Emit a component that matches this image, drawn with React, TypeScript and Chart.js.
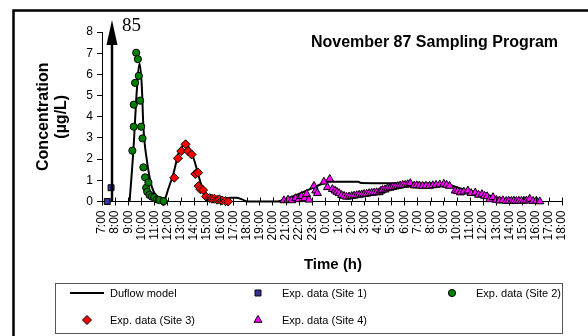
import React, { useEffect, useRef } from "react";
import { Chart, registerables } from "chart.js";

Chart.register(...registerables);

// ---- Data ----
const xTickLabels = [
  "7:00", "8:00", "9:00", "10:00", "11:00", "12:00", "13:00", "14:00", "15:00",
  "16:00", "17:00", "18:00", "19:00", "20:00", "21:00", "22:00", "23:00",
  "0:00", "1:00", "2:00", "3:00", "4:00", "5:00", "6:00", "7:00", "8:00",
  "9:00", "10:00", "11:00", "12:00", "13:00", "14:00", "15:00", "16:00",
  "17:00", "18:00",
];
const xStartHour = 7;
const xEndHour = 42;
const yMin = 0;
const yMax = 8;

const titleText = "November 87 Sampling Program";
const xTitle = "Time (h)";
const yTitleLines = ["Concentration", "(\u00b5g/L)"];

const seriesLabels = [
  "Duflow model",
  "Exp. data (Site 1)",
  "Exp. data (Site 2)",
  "Exp. data (Site 3)",
  "Exp. data (Site 4)",
];

const modelTimes = [
  9.1, 9.39, 9.65, 9.85, 10.03, 10.15, 10.41, 10.79, 11.3, 11.68, 12.06, 12.44,
  12.82, 13.08, 13.34, 13.72, 13.97, 14.23, 14.48, 14.73, 15.11, 15.5, 16.26,
  16.77, 17.23, 17.66, 18.05, 20.3, 21.35, 22.37, 23.13, 23.89, 24.28, 26.5,
  26.7, 29.0, 31.27, 33.3, 34.33, 35.85, 37.13, 38.4, 40.3,
];
const modelValues = [
  0, 2.43, 5.26, 6.52, 5.42, 3.53, 1.96, 0.7, 0.15, 0.02, 0.62, 1.33, 2.27, 2.58,
  2.74, 2.43, 2.04, 1.49, 0.93, 0.54, 0.26, 0.15, 0.1, 0.18, 0.18, 0.1, 0, 0, 0.2,
  0.46, 0.67, 0.86, 0.93, 0.93, 0.87, 0.86, 0.86, 0.8, 0.6, 0.38, 0.18, 0.07, 0,
];

// Site 1 model spike (off scale, drawn as an arrow)
const site1SpikeTime = 7.76;
const site1SpikeValue = 85;

const site1Times = [7.4, 7.69];
const site1Values = [0, 0.65];

const site2Times = [
  9.31, 9.42, 9.42, 9.52, 9.6, 9.73, 9.8, 9.9, 9.98, 10.08, 10.15, 10.28, 10.36,
  10.44, 10.53, 10.61, 10.79, 10.97, 11.18, 11.37, 11.68,
];
const site2Values = [
  2.4, 3.53, 4.57, 5.6, 7.02, 6.72, 5.93, 4.76, 3.53, 2.98, 1.61, 1.14, 0.65,
  0.46, 0.9, 0.31, 0.23, 0.2, 0.1, 0.07, 0.02,
];

const site3Times = [
  11.68, 12.5, 12.78, 13.03, 13.36, 13.54, 13.82, 14.1, 14.31, 14.35, 14.48,
  14.69, 14.92, 15.19, 15.37, 15.55, 15.76, 15.93, 16.14, 16.39, 16.6,
];
const site3Values = [
  0, 1.12, 2.04, 2.38, 2.7, 2.38, 2.22, 1.3, 1.36, 0.73, 0.58, 0.54, 0.23, 0.16,
  0.13, 0.13, 0.08, 0.1, 0.05, 0.02, 0,
];

const site4Times = [
  20.84, 21.15, 21.43, 21.73, 21.98, 22.17, 22.42, 22.57, 22.75, 23.13, 23.26,
  23.39, 23.89, 24.15, 24.33, 24.53, 24.73, 24.88, 25.04, 25.23, 25.42, 25.6,
  25.8, 26.0, 26.18, 26.38, 26.57, 26.76, 26.95, 27.14, 27.33, 27.52, 27.71,
  27.9, 28.09, 28.22, 28.35, 28.54, 28.73, 28.92, 29.11, 29.3, 29.5, 29.69,
  29.88, 30.07, 30.26, 30.46, 30.76, 30.95, 31.15, 31.4, 31.65, 31.91, 32.17,
  32.42, 32.7, 33.01, 33.22, 33.44, 33.87, 34.05, 34.27, 34.53, 34.84, 35.09,
  35.4, 35.65, 35.91, 36.11, 36.3, 36.49, 36.75, 37.0, 37.25, 37.5, 37.76,
  37.95, 38.15, 38.34, 38.53, 38.72, 38.91, 39.1, 39.29, 39.54, 39.8, 40.05,
  40.31,
];
const site4Values = [
  0.05, 0.08, 0.05, 0.15, 0.1, 0.25, 0.15, 0.35, 0.08, 0.73, 0.51, 0.39, 0.93,
  0.67, 1.06, 0.58, 0.51, 0.45, 0.39, 0.3, 0.26, 0.22, 0.23, 0.25, 0.27, 0.29,
  0.31, 0.33, 0.35, 0.36, 0.39, 0.4, 0.42, 0.43, 0.43, 0.5, 0.54, 0.56, 0.62,
  0.64, 0.68, 0.7, 0.72, 0.75, 0.78, 0.78, 0.81, 0.86, 0.75, 0.76, 0.75, 0.73,
  0.74, 0.73, 0.76, 0.78, 0.8, 0.83, 0.78, 0.73, 0.51, 0.48, 0.42, 0.46, 0.51,
  0.39, 0.42, 0.31, 0.34, 0.26, 0.24, 0.1, 0.2, 0.07, 0.04, 0.05, 0.02, 0.03,
  0.02, 0.03, 0.02, 0.03, 0.02, 0.03, 0.04, 0.12, 0.02, 0.03, 0,
];

const toPoints = (xs: number[], ys: number[]) => xs.map((x, i) => ({ x, y: ys[i] }));

const FONT = '"Liberation Sans", Arial, sans-serif';

function drawSymbol(ctx: CanvasRenderingContext2D, style: string, x: number, y: number, r: number, fill: string) {
  ctx.save();
  ctx.fillStyle = fill;
  ctx.strokeStyle = "#000";
  ctx.lineWidth = 1;
  ctx.beginPath();
  if (style === "rect") {
    const s = Math.SQRT1_2 * r;
    ctx.rect(x - s, y - s, 2 * s, 2 * s);
  } else if (style === "circle") {
    ctx.arc(x, y, r, 0, Math.PI * 2);
  } else if (style === "rectRot") {
    ctx.moveTo(x, y - r);
    ctx.lineTo(x + r, y);
    ctx.lineTo(x, y + r);
    ctx.lineTo(x - r, y);
    ctx.closePath();
  } else if (style === "triangle") {
    ctx.moveTo(x, y - r);
    ctx.lineTo(x + r * 0.866, y + r * 0.5);
    ctx.lineTo(x - r * 0.866, y + r * 0.5);
    ctx.closePath();
  }
  ctx.fill();
  ctx.stroke();
  ctx.restore();
}

const decorPlugin = {
  id: "decor",
  afterDraw(chart: any) {
    const { ctx, chartArea, scales } = chart;
    const xs = scales.x;
    const ys = scales.y;
    ctx.save();

    // outer frame (cropped at right/bottom)
    ctx.strokeStyle = "#000";
    ctx.lineWidth = 2.5;
    ctx.beginPath();
    ctx.moveTo(13.5, 336);
    ctx.lineTo(13.5, 10.5);
    ctx.lineTo(588, 10.5);
    ctx.stroke();

    // upper halves of crossing x ticks
    ctx.lineWidth = 1;
    xs.ticks.forEach((_t: any, i: number) => {
      const px = Math.round(xs.getPixelForTick(i)) + 0.5;
      ctx.beginPath();
      ctx.moveTo(px, chartArea.bottom - 4);
      ctx.lineTo(px, chartArea.bottom);
      ctx.stroke();
    });

    // Site 1 spike arrow
    const ax = xs.getPixelForValue(site1SpikeTime);
    const y0 = ys.getPixelForValue(0);
    const tipY = chartArea.top - 12;
    ctx.lineWidth = 2.5;
    ctx.beginPath();
    ctx.moveTo(ax, y0);
    ctx.lineTo(ax, tipY + 12);
    ctx.stroke();
    ctx.fillStyle = "#000";
    ctx.beginPath();
    ctx.moveTo(ax, tipY);
    ctx.lineTo(ax + 5.5, tipY + 25);
    ctx.lineTo(ax - 5.5, tipY + 25);
    ctx.closePath();
    ctx.fill();
    ctx.font = '19px "Liberation Serif", "Times New Roman", serif';
    ctx.textAlign = "left";
    ctx.textBaseline = "alphabetic";
    ctx.fillText(String(site1SpikeValue), ax + 10, tipY + 11);

    // main title
    ctx.font = `bold 16px ${FONT}`;
    ctx.textAlign = "center";
    ctx.fillText(titleText, 434.5, 47);

    // y title
    const yc = (chartArea.top + chartArea.bottom) / 2;
    const baselines = [48, 66];
    yTitleLines.forEach((t, i) => {
      ctx.save();
      ctx.translate(baselines[i], yc);
      ctx.rotate(-Math.PI / 2);
      ctx.fillText(t, 0, 0);
      ctx.restore();
    });

    // x title
    ctx.font = `bold 15px ${FONT}`;
    ctx.fillText(xTitle, 333, 269);

    // legend
    ctx.strokeStyle = "#555";
    ctx.lineWidth = 1;
    ctx.strokeRect(55.5, 283.5, 507, 50);
    const ds = chart.data.datasets;
    const cols = [87, 258, 452];
    const textCols = [110, 282, 476];
    const rows = [293, 320];
    const legendR = [0, 4.2, 3.6, 4.5, 4.6];
    ctx.font = `11px ${FONT}`;
    ctx.textAlign = "left";
    ctx.textBaseline = "middle";
    ctx.fillStyle = "#000";
    ds.forEach((d: any, i: number) => {
      const r = Math.floor(i / 3);
      const c = i % 3;
      const cx = cols[c];
      const cy = rows[r];
      if (i === 0) {
        ctx.save();
        ctx.strokeStyle = d.borderColor;
        ctx.lineWidth = 2;
        ctx.beginPath();
        ctx.moveTo(cx - 17, cy);
        ctx.lineTo(cx + 17, cy);
        ctx.stroke();
        ctx.restore();
      } else {
        drawSymbol(ctx, d.pointStyle, cx, cy, legendR[i], d.backgroundColor);
      }
      ctx.fillStyle = "#000";
      ctx.fillText(d.label, textCols[c], cy + 1);
    });

    ctx.restore();
  },
};

export default function App() {
  const ref = useRef<HTMLCanvasElement>(null);

  useEffect(() => {
    if (!ref.current) return;
    const marker = (color: string, style: string, r: number) => ({
      backgroundColor: color,
      borderColor: "#000",
      borderWidth: 1,
      pointStyle: style,
      pointRadius: r,
      showLine: false,
      clip: false as any,
      order: 0,
    });
    const chart = new Chart(ref.current, {
      type: "scatter",
      data: {
        datasets: [
          {
            label: seriesLabels[0],
            data: toPoints(modelTimes, modelValues),
            showLine: true,
            borderColor: "#000",
            backgroundColor: "#000",
            borderWidth: 2,
            pointRadius: 0,
            cubicInterpolationMode: "monotone",
            clip: false as any,
            order: 1,
          } as any,
          { label: seriesLabels[1], data: toPoints(site1Times, site1Values), ...marker("#333399", "rect", 4.2) },
          { label: seriesLabels[2], data: toPoints(site2Times, site2Values), ...marker("#008000", "circle", 3.6) },
          { label: seriesLabels[3], data: toPoints(site3Times, site3Values), ...marker("#FF0000", "rectRot", 4.5) },
          { label: seriesLabels[4], data: toPoints(site4Times, site4Values), ...marker("#FF00FF", "triangle", 4.6) },
        ],
      },
      options: {
        animation: false,
        responsive: false,
        maintainAspectRatio: false,
        layout: { padding: { left: 0, top: 32, right: 26, bottom: 0 } },
        plugins: {
          legend: { display: false },
          tooltip: { enabled: false },
          title: { display: false },
        },
        scales: {
          x: {
            type: "linear",
            min: xStartHour,
            max: xEndHour,
            afterFit: (s: any) => {
              s.height = 336 - 201.5;
            },
            ticks: {
              stepSize: 1,
              autoSkip: false,
              maxRotation: 90,
              minRotation: 90,
              padding: 5,
              color: "#000",
              font: { family: FONT, size: 12 },
              callback: (_v: any, i: number) => xTickLabels[i],
            },
            grid: {
              display: true,
              drawOnChartArea: false,
              drawTicks: true,
              tickLength: 4,
              color: "#000",
            },
            border: { display: true, color: "#000", width: 1 },
          },
          y: {
            min: yMin,
            max: yMax,
            afterFit: (s: any) => {
              s.width = 102;
            },
            ticks: {
              stepSize: 1,
              padding: 4,
              color: "#000",
              font: { family: FONT, size: 12 },
            },
            grid: {
              display: true,
              drawOnChartArea: false,
              drawTicks: true,
              tickLength: 5,
              color: "#000",
            },
            border: { display: true, color: "#000", width: 1 },
          },
        },
      },
      plugins: [decorPlugin],
    });
    return () => chart.destroy();
  }, []);

  return (
    <div style={{ position: "absolute", left: 0, top: 0, width: 588, height: 336, background: "#fff" }}>
      <canvas ref={ref} width={588} height={336} style={{ display: "block" }} />
    </div>
  );
}
